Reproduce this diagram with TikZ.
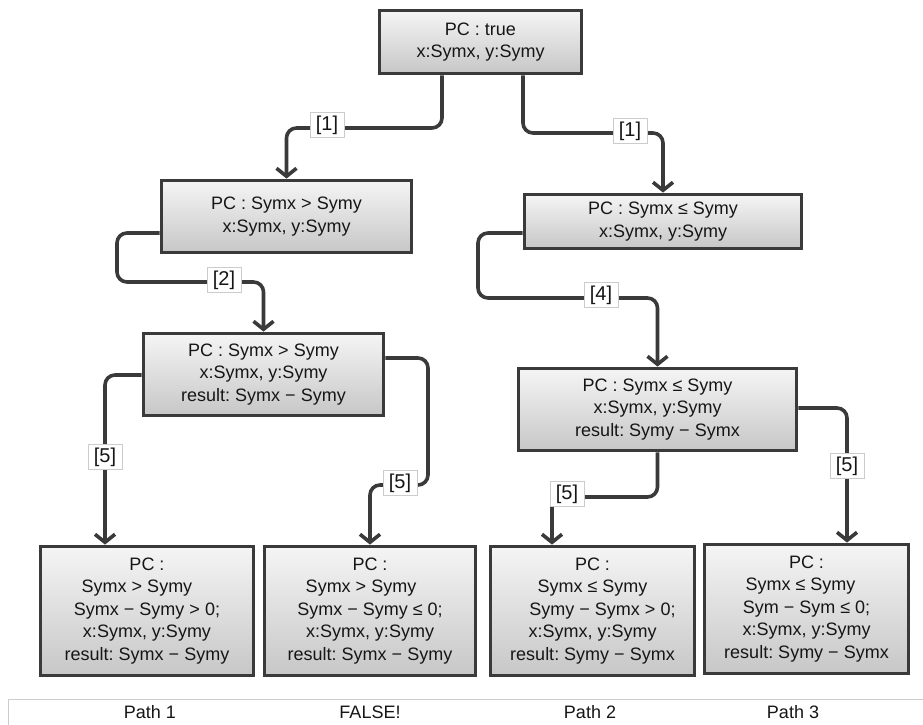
\documentclass[tikz,border=0pt]{standalone}
\usepackage{fontspec}
\setmainfont{Liberation Sans}
\usetikzlibrary{arrows.meta,calc}
\definecolor{edge}{HTML}{3A3A3A}
\definecolor{txt}{HTML}{161616}
\frenchspacing
\tikzset{
  box/.style={draw=edge, line width=3.8pt, top color=black!4, bottom color=black!22,
    text=txt, align=center, inner sep=0pt, font=\fontsize{18}{22.5}\selectfont\frenchspacing},
  conn/.style={draw=edge, line width=3.6pt, rounded corners=10pt,
    -{Straight Barb[length=8pt,width=20pt]}},
  lbl/.style={draw=black!20, line width=0.6pt, fill=white, text=txt,
    inner xsep=6pt, inner ysep=3pt, font=\fontsize{20}{22}\selectfont},
  foot/.style={text=txt, font=\fontsize{18}{20}\selectfont}
}
\begin{document}
\begin{tikzpicture}[x=1pt,y=-1pt]
\useasboundingbox (0,0) rectangle (923,725);
% boxes
\node[box, minimum width=202pt, minimum height=63pt] (root) at (480.5,42) {PC : true\\x:Symx, y:Symy};
\node[box, minimum width=250pt, minimum height=72pt] (A) at (286.5,216.5) {PC : Symx > Symy\\x:Symx, y:Symy};
\node[box, minimum width=277pt, minimum height=54pt] (B) at (663,221.5) {PC : Symx ≤ Symy\\x:Symx, y:Symy};
\node[box, minimum width=240pt, minimum height=82pt] (C) at (263.5,374.5) {PC : Symx > Symy\\x:Symx, y:Symy\\result: Symx − Symy};
\node[box, minimum width=278pt, minimum height=82pt] (D) at (657.5,409.5) {PC : Symx ≤ Symy\\x:Symx, y:Symy\\result: Symy − Symx};
\node[box, minimum width=213pt, minimum height=129pt] (E) at (147,611) {PC :\\Symx > Symy\rule{20pt}{0pt}\\Symx − Symy > 0;\\x:Symx, y:Symy\\result: Symx − Symy};
\node[box, minimum width=211pt, minimum height=129pt] (F) at (370,611) {PC :\\Symx > Symy\rule{18pt}{0pt}\\Symx − Symy ≤ 0;\\x:Symx, y:Symy\\result: Symx − Symy};
\node[box, minimum width=204pt, minimum height=129pt] (G) at (592.5,611) {PC :\\Symx ≤ Symy\\\rule{20pt}{0pt}Symy − Symx > 0;\\x:Symx, y:Symy\\result: Symy − Symx};
\node[box, minimum width=204pt, minimum height=129pt] (H) at (806.5,609) {PC :\\Symx ≤ Symy\rule{12pt}{0pt}\\Sym − Sym ≤ 0;\\x:Symx, y:Symy\\result: Symy − Symx};
% turning points
\coordinate (k1) at (330,128);
\coordinate (k2) at (600,133);
\coordinate (k3) at (117,282);
\coordinate (k4) at (478,298);
\coordinate (k5) at (428,485);
\coordinate (k6) at (600,497);
% connectors
\draw[conn] ($(root.south)+(-38.5,0)$) |- (k1) -| (A.north);
\draw[conn] ($(root.south)+(42.5,0)$) |- (k2) -| (B.north);
\draw[conn] ($(A.west)+(0,16.5)$) -| (k3) -| (C.north);
\draw[conn] ($(B.west)+(0,11.5)$) -| (k4) -| (D.north);
\draw[conn] ($(C.west)+(0,0.5)$) -| ($(E.north)+(-42,0)$);
\draw[conn] ($(C.east)+(0,-16.5)$) -| (k5) -| (F.north);
\draw[conn] (D.south) |- (k6) -| ($(G.north)+(-40.5,0)$);
\draw[conn] ($(D.east)+(0,-1.5)$) -| ($(H.north)+(40.5,0)$);
% labels
\node[lbl] (l1) at (327,125) {[1]};
\node[lbl] (l2) at (630,131) {[1]};
\node[lbl] (l3) at (224,280) {[2]};
\node[lbl] (l4) at (601,295) {[4]};
\node[lbl] (l5) at (105,457) {[5]};
\node[lbl] (l6) at (400,483) {[5]};
\node[lbl] (l7) at (567,494) {[5]};
\node[lbl] (l8) at (847,466) {[5]};
% footer table
\draw[black!20, line width=1pt] (8,725) -- (8,699) -- (923,699);
\node[foot] (p1) at (150,712) {Path 1};
\node[foot] (p2) at (370,712) {FALSE!};
\node[foot] (p3) at (590,712) {Path 2};
\node[foot] (p4) at (793,712) {Path 3};
\end{tikzpicture}
\end{document}
